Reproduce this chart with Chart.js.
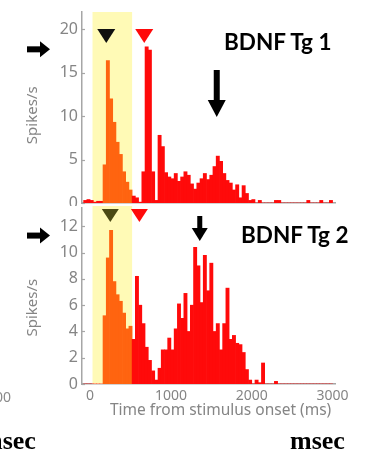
<!DOCTYPE html>
<html><head><meta charset="utf-8">
<script src="https://cdn.jsdelivr.net/npm/chart.js@4.4.0/dist/chart.umd.min.js"></script>
<style>
html,body{margin:0;padding:0;background:#fff;}
body{width:366px;height:452px;overflow:hidden;position:relative;}
canvas{position:absolute;left:0;}
#c1{top:0;}
#c2{top:206px;}
.t{position:absolute;white-space:nowrap;line-height:1;}
.ttl{font-family:Lato,'Open Sans',sans-serif;font-weight:bold;font-size:22.5px;color:#000;}
.ms{font-family:'Liberation Serif','DejaVu Serif',serif;font-weight:bold;font-size:26px;color:#000;}
.gr{font-family:'Noto Sans',sans-serif;font-size:14px;color:#8a8a8a;}
</style></head><body>
<canvas id="c1" width="366" height="206"></canvas>
<canvas id="c2" width="366" height="246"></canvas>
<div class="t ttl" style="left:224px;top:31px;">BDNF Tg 1</div>
<div class="t ttl" style="left:241px;top:224px;">BDNF Tg 2</div>
<div class="t ms" style="left:290px;top:428px;">msec</div>
<div class="t ms" style="left:-19px;top:428px;">msec</div>
<div class="t gr" style="left:-21px;top:390px;">3000</div>
<script>
// ---------- data ----------
const BIN_MS = 40;                       // histogram bin width (ms)
const binCenters = Array.from({length: 77}, (_, i) => -60 + BIN_MS * i);  // -60 ... 2980 ms
const tg1Rate = [
  0.3, 0.4, 0.3, 0.1, 0.2, 0.2,
  4.4, 16.4, 12.0, 9.3, 7.0, 5.6, 3.6, 2.4, 1.5,
  0.8, 0.6, 0.1, 3.6, 18.0, 17.6, 3.6, 0.3, 7.8, 6.5, 3.5, 3.0,
  2.8, 3.4, 2.5, 3.0, 3.6, 3.2, 2.2, 1.6, 2.3, 2.8, 3.4, 2.7, 3.2,
  4.2, 5.4, 4.8, 3.4, 2.6, 2.3, 1.5, 2.1, 0.6, 2.0, 1.1, 0.3, 0.4,
  0, 0.3, 0, 0, 0, 0, 0.3, 0.3, 0, 0, 0, 0, 0, 0, 0, 0,
  0.3, 0, 0, 0, 0.3, 0, 0, 0.3
];
const tg2Rate = [
  0, 0, 0, 0, 0, 0,
  5.2, 9.6, 11.7, 7.8, 6.8, 6.3, 5.4, 4.2, 4.4,
  3.4, 8.2, 6.0, 4.6, 2.8, 1.8, 1.0, 0.3, 1.2, 2.6, 2.6, 3.5,
  2.6, 4.2, 6.1, 5.0, 6.9, 4.0, 6.0, 10.4, 9.0, 6.2, 9.8, 7.1, 9.2,
  4.0, 4.6, 2.6, 4.6, 7.3, 3.4, 3.7, 3.1, 3.0, 2.4, 1.1, 0.3, 0,
  0.3, 0.1, 1.6, 0, 0, 0, 0.2, 0, 0, 0, 0, 0, 0, 0, 0, 0,
  0, 0, 0, 0, 0, 0, 0, 0
];
const xTicks = [0, 1000, 2000, 3000];
const tg1YTicks = [0, 5, 10, 15, 20];
const tg2YTicks = [0, 2, 4, 6, 8, 10, 12];
const earlyWindow = [30, 520];          // shaded yellow window (ms)
const earlyBars = [160, 520];           // bars coloured orange (ms)
const tg1Markers = [200, 670];          // triangle markers (ms)
const tg2Markers = [250, 610];
const tg1Arrow = 1567, tg2Arrow = 1357; // down-arrow positions (ms)
const tg1LeftArrow = 17.7, tg2LeftArrow = 11.3; // left-arrow levels (spikes/s)

// ---------- style ----------
const RED = '#ff0a0a', ORANGE = '#ff6410', YELLOW = '#fffab6', AXIS = '#a6a6a6', TICK = '#858585';
const FONT = "'Noto Sans', sans-serif";

function triDown(ctx, cx, top, w, h, color) {
  ctx.beginPath(); ctx.moveTo(cx - w/2, top); ctx.lineTo(cx + w/2, top); ctx.lineTo(cx, top + h); ctx.closePath();
  ctx.fillStyle = color; ctx.fill();
}
function arrowDown(ctx, cx, top, headTop, tip, shaftW, headW) {
  ctx.fillStyle = '#000';
  ctx.fillRect(cx - shaftW/2, top, shaftW, headTop - top + 1);
  ctx.beginPath(); ctx.moveTo(cx - headW/2, headTop); ctx.lineTo(cx + headW/2, headTop); ctx.lineTo(cx, tip); ctx.closePath(); ctx.fill();
}
function arrowRight(ctx, x0, headX, tip, cy, shaftH, headH) {
  ctx.fillStyle = '#000';
  ctx.fillRect(x0, cy - shaftH/2, headX - x0 + 1, shaftH);
  ctx.beginPath(); ctx.moveTo(headX, cy - headH/2); ctx.lineTo(headX, cy + headH/2); ctx.lineTo(tip, cy); ctx.closePath(); ctx.fill();
}

const deco = {
  id: 'deco',
  beforeDatasetsDraw(chart, args, o) {
    const {ctx, chartArea: a, scales: {x}} = chart;
    const x0 = x.getPixelForValue(earlyWindow[0]), x1 = x.getPixelForValue(earlyWindow[1]);
    ctx.save(); ctx.fillStyle = YELLOW; ctx.fillRect(x0, a.top - o.bandExtra, x1 - x0, a.bottom - a.top + o.bandExtra); ctx.restore();
  },
  afterDraw(chart, args, o) {
    const {ctx, chartArea: a, scales: {x, y}} = chart;
    ctx.save();
    ctx.strokeStyle = AXIS; ctx.lineWidth = 1.2;
    y.ticks.forEach(t => { const py = Math.round(y.getPixelForValue(t.value)) + 0.5; ctx.beginPath(); ctx.moveTo(a.left, py); ctx.lineTo(a.left + 3, py); ctx.stroke(); });
    triDown(ctx, x.getPixelForValue(o.markers[0]), o.triTop, o.triW, o.triH, o.triColors[0]);
    triDown(ctx, x.getPixelForValue(o.markers[1]), o.triTop, o.triW, o.triH, o.triColors[1]);
    const d = o.down;
    arrowDown(ctx, x.getPixelForValue(d.ms), d.top, d.headTop, d.tip, d.shaftW, d.headW);
    const cy = y.getPixelForValue(o.leftLevel);
    arrowRight(ctx, 27, 40, 50, cy, 6, 16);
    ctx.restore();
  }
};

function makeChart(id, rates, yMax, yTicks, showX, pad, xH, extra) {
  const data = binCenters.map((c, i) => ({x: c, y: rates[i]}));
  return new Chart(document.getElementById(id), {
    type: 'bar',
    data: { datasets: [{
      data,
      backgroundColor: c => (c.raw && c.raw.x >= earlyBars[0] && c.raw.x <= earlyBars[1]) ? ORANGE : RED,
      borderWidth: 0, barPercentage: 1, categoryPercentage: 1, grouped: false
    }]},
    options: {
      responsive: false, animation: false, devicePixelRatio: 1,
      layout: { padding: pad },
      plugins: { legend: {display: false}, tooltip: {enabled: false}, deco: extra },
      scales: {
        x: {
          type: 'linear', min: -100, max: 3030, offset: false,
          grid: { display: false, drawTicks: false },
          border: { display: true, color: AXIS, width: 1.5 },
          afterBuildTicks: s => { s.ticks = xTicks.map(v => ({value: v})); },
          ticks: { display: showX, autoSkip: false, maxRotation: 0,
                   padding: 4, color: TICK, font: {family: FONT, size: 14},
                   callback: v => String(v) },
          title: { display: showX, text: '      Time from stimulus onset (ms)', color: TICK,
                   font: {family: FONT, size: 15.5}, padding: {top: 0, bottom: 0} },
          afterFit: s => { s.height = xH; s.paddingLeft = 0; s.paddingRight = 0; }
        },
        y: {
          min: 0, max: yMax,
          grid: { display: false, drawTicks: false },
          border: { display: true, color: AXIS, width: 1.5 },
          afterBuildTicks: s => { s.ticks = yTicks.map(v => ({value: v})); },
          ticks: { padding: 4, color: TICK, font: {family: FONT, size: 16}, callback: v => String(v) },
          title: { display: true, text: extra.yTitle, color: TICK, font: {family: FONT, size: 15}, padding: {top: 24, bottom: 0} },
          afterFit: s => { s.width = 82; s.paddingTop = 0; s.paddingBottom = 0; }
        }
      }
    },
    plugins: [deco]
  });
}

makeChart('c1', tg1Rate, 22, tg1YTicks, false, {top: 12, right: 31, bottom: 0, left: 0}, 3, {
  bandExtra: 0, markers: tg1Markers, triTop: 29, triW: 18, triH: 14, triColors: ['#101010', RED],
  down: {ms: tg1Arrow, top: 70, headTop: 100, tip: 117, shaftW: 6, headW: 18},
  leftLevel: tg1LeftArrow, yTitle: 'Spikes/s    '
});
makeChart('c2', tg2Rate, 13.4, tg2YTicks, true, {top: 2, right: 31, bottom: 32, left: 0}, 36, {
  bandExtra: 2, markers: tg2Markers, triTop: 3, triW: 17, triH: 13, triColors: ['#4b4a14', RED],
  down: {ms: tg2Arrow, top: 10, headTop: 22, tip: 35, shaftW: 5, headW: 16},
  leftLevel: tg2LeftArrow, yTitle: 'Spikes/s      '
});
</script>
</body></html>
